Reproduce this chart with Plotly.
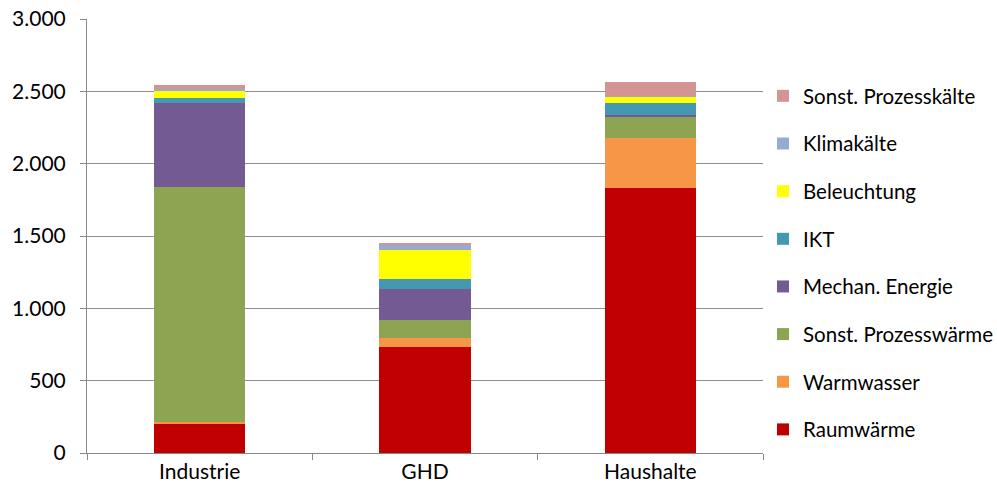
import plotly.graph_objects as go

categories = ["Industrie", "GHD", "Haushalte"]

series_names = [
    "Raumwärme",
    "Warmwasser",
    "Sonst. Prozesswärme",
    "Mechan. Energie",
    "IKT",
    "Beleuchtung",
    "Klimakälte",
    "Sonst. Prozesskälte",
]

raumwaerme = [206, 732, 1835]
warmwasser = [10, 62, 342]
prozesswaerme = [1624, 122, 143]
mechan_energie = [579, 215, 14]
ikt = [32, 74, 83]
beleuchtung = [51, 196, 48]
klimakaelte = [16, 35, 4]
prozesskaelte = [23, 16, 95]

series_values = [
    raumwaerme, warmwasser, prozesswaerme, mechan_energie,
    ikt, beleuchtung, klimakaelte, prozesskaelte,
]

colors = [
    "#C00000", "#F79646", "#8DA552", "#735A92",
    "#4299B1", "#FFFF00", "#95ABD2", "#D49494",
]

y_ticks = [0, 500, 1000, 1500, 2000, 2500, 3000]
y_labels = ["0", "500", "1.000", "1.500", "2.000", "2.500", "3.000"]

font_family = "Lato, 'Open Sans', sans-serif"

fig = go.Figure()
n = len(series_names)
for i, (name, vals, col) in enumerate(zip(series_names, series_values, colors)):
    fig.add_trace(go.Bar(
        x=categories, y=vals, name=name,
        marker=dict(color=col, line=dict(width=0)),
        legendgroup=name,
        legendrank=n - i,  # stack top listed first
    ))

fig.update_layout(
    width=997, height=493,
    barmode="stack",
    bargap=0.595,
    plot_bgcolor="white",
    paper_bgcolor="white",
    margin=dict(l=87, r=234, t=19, b=40),
    font=dict(family=font_family, size=21, color="#000000"),
    showlegend=True,
    legend=dict(
        traceorder="grouped",
        xref="container", yref="container",
        x=0.7653, xanchor="left",
        y=0.4665, yanchor="middle",
        font=dict(size=20.5),
        tracegroupgap=18,
        itemwidth=30,
        maxheight=1.0,
    ),
    xaxis=dict(
        showline=True, linecolor="#888888", linewidth=1,
        ticks="outside", ticklen=6, tickcolor="#888888",
        tickson="boundaries",
        showgrid=False,
        tickfont=dict(size=21),
        automargin=False,
    ),
    yaxis=dict(
        range=[0, 3000],
        tickvals=y_ticks, ticktext=y_labels,
        showline=True, linecolor="#888888", linewidth=1,
        ticks="outside", ticklen=6, tickcolor="#888888",
        showgrid=True, gridcolor="#8C8C8C", gridwidth=1,
        zeroline=False,
        tickfont=dict(size=21),
        ticklabelstandoff=10,
        automargin=False,
    ),
)

fig.write_html("out.html")
